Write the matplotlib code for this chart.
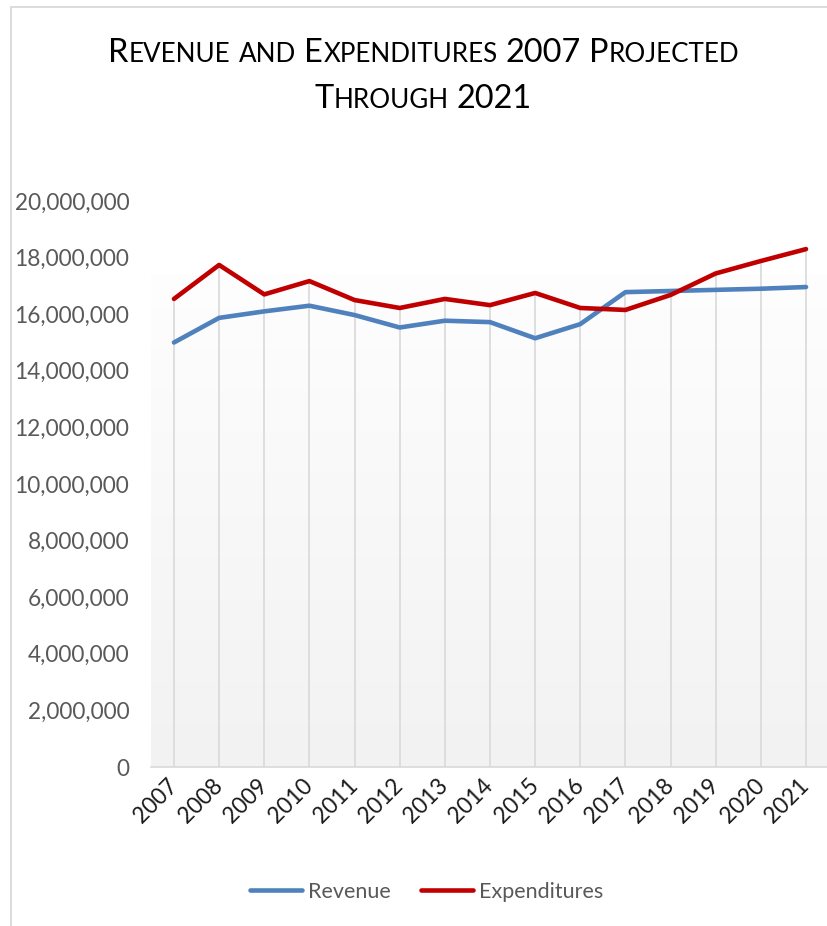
import numpy as np
import matplotlib
matplotlib.use("Agg")
import matplotlib.pyplot as plt
from matplotlib.lines import Line2D
from matplotlib.patches import Rectangle
from matplotlib.ticker import FuncFormatter

# ---- data -------------------------------------------------------------
years = ["2007", "2008", "2009", "2010", "2011", "2012", "2013", "2014",
         "2015", "2016", "2017", "2018", "2019", "2020", "2021"]
revenue = [15.00e6, 15.87e6, 16.10e6, 16.30e6, 15.97e6, 15.53e6, 15.77e6, 15.72e6,
           15.15e6, 15.65e6, 16.78e6, 16.82e6, 16.86e6, 16.90e6, 16.96e6]
expenditures = [16.54e6, 17.74e6, 16.70e6, 17.17e6, 16.50e6, 16.22e6, 16.54e6, 16.32e6,
                16.75e6, 16.22e6, 16.15e6, 16.68e6, 17.44e6, 17.88e6, 18.30e6]
series_names = ["Revenue", "Expenditures"]
title_lines = ["Revenue and Expenditures 2007 Projected", "Through 2021"]
y_ticks = [0, 2e6, 4e6, 6e6, 8e6, 10e6, 12e6, 14e6, 16e6, 18e6, 20e6]

# ---- style ------------------------------------------------------------
FONT = "Lato"
BLUE = "#4F81BD"
RED = "#C00000"
GRID = "#D9D9D9"
LABEL_GRAY = "#595959"

W_PX, H_PX = 828, 926
fig = plt.figure(figsize=(W_PX / 100, H_PX / 100), dpi=100)
fig.patch.set_facecolor("white")

# chart border (open to the right and bottom)
fig.add_artist(Rectangle((10.5 / W_PX, -0.1), 2.0, (H_PX - 7) / H_PX + 0.1,
                         transform=fig.transFigure, facecolor="none",
                         edgecolor=GRID, linewidth=1.3, zorder=0))

# plot area
ax_left, ax_right = 151.4, 828.6
ax_top, ax_bottom = 201, 767
ax = fig.add_axes([ax_left / W_PX, (H_PX - ax_bottom) / H_PX,
                   (ax_right - ax_left) / W_PX, (ax_bottom - ax_top) / H_PX])
ax.set_facecolor("none")

x = np.arange(len(years))

# soft vertical gradient behind the plot
grad_top = (ax_bottom - 275) / (ax_bottom - ax_top)
shade = np.linspace(0.949, 0.995, 256)[::-1]
img = np.dstack([shade, shade, shade]).reshape(256, 1, 3)
ax.imshow(img, extent=(0, 1, 0, grad_top), transform=ax.transAxes,
          aspect="auto", zorder=0, interpolation="bicubic")

# drop lines from the highest point of each category
tops = np.maximum(revenue, expenditures)
ax.vlines(x, 0, tops, colors=GRID, linewidth=1.2, zorder=1)

ax.plot(x, revenue, color=BLUE, lw=3.3, solid_capstyle="round",
        solid_joinstyle="round", zorder=3)
ax.plot(x, expenditures, color=RED, lw=3.3, solid_capstyle="round",
        solid_joinstyle="round", zorder=4)

ax.set_xlim(-0.5, len(years) - 0.5)
ax.set_ylim(0, 20e6)
ax.set_yticks(y_ticks)
ax.yaxis.set_major_formatter(FuncFormatter(lambda v, p: f"{v:,.0f}"))
ax.set_xticks(x)
ax.set_xticklabels(years, rotation=45, ha="right", va="center",
                   rotation_mode="anchor")

for s in ("left", "right", "top"):
    ax.spines[s].set_visible(False)
ax.spines["bottom"].set_color(GRID)
ax.spines["bottom"].set_linewidth(1.2)
ax.spines["bottom"].set_zorder(2)

ax.tick_params(axis="y", length=0, pad=16, labelsize=16.3, labelcolor=LABEL_GRAY)
ax.tick_params(axis="x", length=0, pad=11, labelsize=16.3, labelcolor="#1a1a1a")
for lab in ax.get_xticklabels() + ax.get_yticklabels():
    lab.set_fontfamily(FONT)

# legend
handles = [Line2D([], [], color=BLUE, lw=3.3, solid_capstyle="round"),
           Line2D([], [], color=RED, lw=3.3, solid_capstyle="round")]
leg = fig.legend(handles, series_names, loc="center",
                 bbox_to_anchor=(427 / W_PX, 1 - 892 / H_PX), ncol=2,
                 frameon=False, handlelength=2.4, handletextpad=0.3,
                 columnspacing=1.4, prop={"family": FONT, "size": 15.5})
for t in leg.get_texts():
    t.set_color(LABEL_GRAY)

# title in small caps: lowercase letters become reduced-size capitals
BIG = 23.4
SMALL = BIG * 0.8
renderer = fig.canvas.get_renderer()


def small_caps_line(text, center_x, baseline_y):
    pieces = []  # (artist, gap_after)
    words = text.split(" ")
    space_probe = fig.text(0, 0, "x x", fontsize=BIG, family=FONT)
    probe2 = fig.text(0, 0, "xx", fontsize=BIG, family=FONT)
    space_w = (space_probe.get_window_extent(renderer).width
               - probe2.get_window_extent(renderer).width)
    space_probe.remove()
    probe2.remove()
    for wi, word in enumerate(words):
        runs = []
        for ch in word:
            small = ch.islower()
            if runs and runs[-1][1] == small:
                runs[-1][0] += ch
            else:
                runs.append([ch, small])
        for ri, (s, small) in enumerate(runs):
            t = fig.text(0, 0, s.upper(), fontsize=SMALL if small else BIG,
                         family=FONT, color="black", va="baseline", ha="left")
            gap = space_w if (ri == len(runs) - 1 and wi < len(words) - 1) else 0
            pieces.append((t, gap))
    widths = [t.get_window_extent(renderer).width for t, _ in pieces]
    total = sum(widths) + sum(g for _, g in pieces)
    cur = center_x - total / 2
    for (t, gap), w in zip(pieces, widths):
        t.set_position((cur / W_PX, 1 - baseline_y / H_PX))
        cur += w + gap


small_caps_line(title_lines[0], 424, 62)
small_caps_line(title_lines[1], 423, 108)

fig.savefig("out.png", dpi=100, facecolor="white")
